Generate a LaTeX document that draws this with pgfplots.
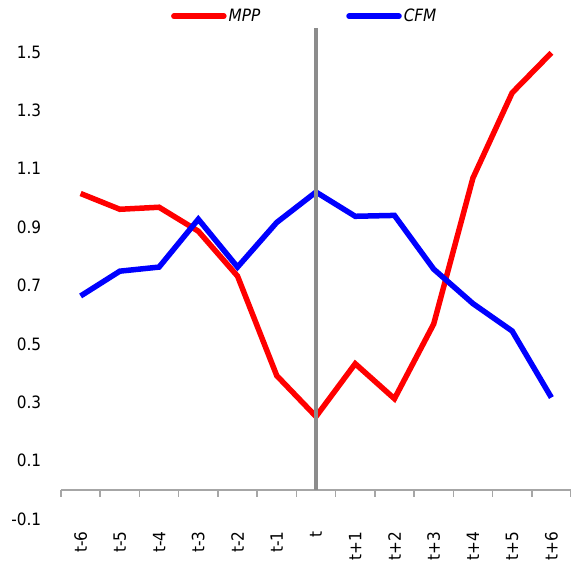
\documentclass[border=0pt]{standalone}
\usepackage{fontspec}
\setmainfont{DejaVu Sans Condensed}
\usepackage{pgfplots}
\pgfplotsset{compat=1.18}

\begin{document}
\fontsize{17}{20}\selectfont
\begin{tikzpicture}
\begin{axis}[
    name=ax,
    width=510pt, height=491pt, scale only axis,
    xmin=-0.5, xmax=12.5, ymin=-0.1, ymax=1.582,
    axis x line=middle, axis y line*=left,
    y axis line style={draw=none},
    x axis line style={draw=gray!70, line width=1.5pt, -},
    xtick={0,...,12},
    xticklabels={t-6,t-5,t-4,t-3,t-2,t-1,t,t+1,t+2,t+3,t+4,t+5,t+6},
    xticklabel style={rotate=90, anchor=east},
    xticklabel shift=36pt,
    minor xtick={-0.5,0.5,...,12.5},
    major tick length=0pt, minor tick length=7pt,
    tick align=outside,
    tick style={draw=gray!70, line width=1.5pt},
    ytick={-0.1,0.1,0.3,0.5,0.7,0.9,1.1,1.3,1.5},
    yticklabel style={xshift=-14pt, /pgf/number format/fixed, /pgf/number format/precision=1, /pgf/number format/fixed zerofill},
    /pgf/number format/assume math mode=true,
    tick label style={font=\fontsize{17}{20}\selectfont},
    legend style={at={(0.478,1)}, anchor=south, draw=none, legend columns=2,
        font=\fontsize{17}{20}\selectfont\itshape,
        /tikz/every even column/.append style={column sep=84pt}},
    legend image code/.code={\draw[#1, line cap=round] (0pt,0pt) -- (50pt,0pt);},
    clip=false,
]
\addplot[red, line width=5.5pt] coordinates {
    (0,1.015) (1,0.961) (2,0.968) (3,0.886) (4,0.732) (5,0.391) (6,0.251)
    (7,0.432) (8,0.312) (9,0.568) (10,1.068) (11,1.360) (12,1.497)};
\addlegendentry{MPP}
\addplot[blue, line width=5.5pt] coordinates {
    (0,0.664) (1,0.749) (2,0.763) (3,0.927) (4,0.763) (5,0.916) (6,1.020)
    (7,0.937) (8,0.940) (9,0.756) (10,0.638) (11,0.544) (12,0.316)};
\addlegendentry{CFM}
\addplot[color={rgb,255:red,140;green,140;blue,140}, line width=3.5pt, forget plot] coordinates {(6,0) (6,1.582)};
\end{axis}
\pgfresetboundingbox
\path ([shift={(-61pt,-47pt)}]ax.south west) rectangle ([shift={(510pt,28pt)}]ax.north west);
\end{tikzpicture}
\end{document}
